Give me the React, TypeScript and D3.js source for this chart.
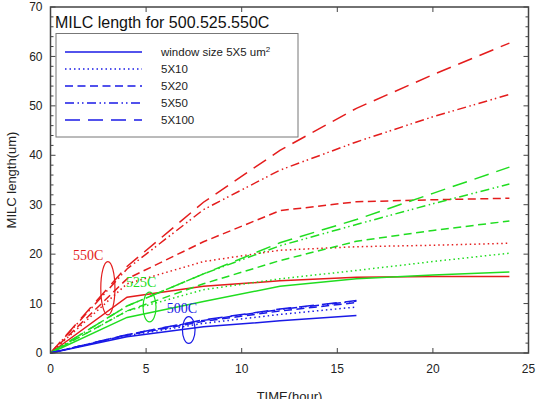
import React, { useEffect, useRef } from 'react'
import * as d3 from 'd3'

// sampling times (hours)
const hours = [0, 4, 8, 12, 16, 20, 24]
const hours500 = [0, 4, 8, 12, 16]

// MILC length (um) per window size: 5X5, 5X10, 5X20, 5X50, 5X100
const milc550 = [
  [0, 11.3, 13.5, 14.6, 15.3, 15.5, 15.5],
  [0, 14.0, 18.5, 20.8, 21.5, 21.8, 22.2],
  [0, 15.0, 22.5, 28.8, 30.6, 31.0, 31.3],
  [0, 17.0, 29.0, 37.0, 42.7, 47.8, 52.3],
  [0, 17.5, 30.5, 41.0, 49.5, 56.3, 62.7],
]
const milc525 = [
  [0, 7.2, 10.4, 13.5, 15.0, 15.8, 16.4],
  [0, 8.5, 12.8, 15.0, 16.7, 18.5, 20.2],
  [0, 8.5, 14.0, 18.7, 22.6, 24.8, 26.7],
  [0, 9.5, 16.0, 21.7, 26.0, 30.2, 34.2],
  [0, 9.5, 16.0, 22.3, 27.0, 32.3, 37.6],
]
const milc500 = [
  [0, 3.3, 5.3, 6.5, 7.6],
  [0, 3.5, 6.0, 7.8, 9.3],
  [0, 3.6, 6.4, 8.5, 10.2],
  [0, 3.7, 6.6, 8.8, 10.5],
  [0, 3.7, 6.7, 8.9, 10.6],
]

const windowLabels = ['window size 5X5 um', '5X10', '5X20', '5X50', '5X100']
const dashes = ['none', '1.5 3', '8 4.5', '9 3.5 1.5 3 1.5 3.5', '15 8']

const xTicks = [0, 5, 10, 15, 20, 25]
const yTicks = [0, 10, 20, 30, 40, 50, 60, 70]

// temperature tags: label anchor and ellipse (centre, half-sizes in data units)
const tempTags = [
  { label: '550C', color: '#e41c1c', tx: 1.18, ty: 18.8, cx: 3.0, cy: 13.1, rt: 0.37, rv: 5.4 },
  { label: '525C', color: '#20dd20', tx: 3.95, ty: 13.4, cx: 5.18, cy: 9.3, rt: 0.34, rv: 3.0 },
  { label: '500C', color: '#1a1ae6', tx: 6.08, ty: 8.1, cx: 7.23, cy: 4.65, rt: 0.33, rv: 2.7 },
]

export default function App() {
  const svgRef = useRef<SVGSVGElement>(null)

  useEffect(() => {
    if (!svgRef.current) return
    const svg = d3.select(svgRef.current)
    svg.selectAll('*').remove()

    const left = 50.5
    const right = 528.5
    const top = 7
    const bottom = 353
    const axisColor = '#444'
    const font = 'Liberation Sans, Arial, sans-serif'

    const x = d3.scaleLinear().domain([0, 25]).range([left, right])
    const y = d3.scaleLinear().domain([0, 70]).range([bottom, top])

    svg.append('rect').attr('width', 553).attr('height', 399).attr('fill', 'white')

    // series
    const plot = svg.append('g')
    const groups = [
      { t: hours, v: milc550, color: tempTags[0].color },
      { t: hours, v: milc525, color: tempTags[1].color },
      { t: hours500, v: milc500, color: tempTags[2].color },
    ]
    groups.forEach((grp) => {
      grp.v.forEach((vals, i) => {
        const line = d3
          .line<number>()
          .x((_, j) => x(grp.t[j]))
          .y((d) => y(d))
        plot
          .append('path')
          .datum(vals)
          .attr('fill', 'none')
          .attr('stroke', grp.color)
          .attr('stroke-width', 1.5)
          .attr('stroke-dasharray', dashes[i])
          .attr('d', line)
      })
    })

    // temperature annotations
    tempTags.forEach((tag) => {
      svg
        .append('text')
        .attr('x', x(tag.tx))
        .attr('y', y(tag.ty))
        .attr('font-family', 'Liberation Serif, Times New Roman, serif')
        .attr('font-size', 14)
        .attr('fill', tag.color)
        .text(tag.label)
      svg
        .append('ellipse')
        .attr('cx', x(tag.cx))
        .attr('cy', y(tag.cy))
        .attr('rx', x(tag.rt) - x(0))
        .attr('ry', y(0) - y(tag.rv))
        .attr('fill', 'none')
        .attr('stroke', tag.color)
        .attr('stroke-width', 1.2)
    })

    // frame and inward ticks on all sides
    const axes = svg.append('g')
    axes
      .append('rect')
      .attr('x', left)
      .attr('y', top)
      .attr('width', right - left)
      .attr('height', bottom - top)
      .attr('fill', 'none')
      .attr('stroke', axisColor)
      .attr('stroke-width', 1.5)

    xTicks.forEach((t) => {
      axes.append('line').attr('x1', x(t)).attr('x2', x(t)).attr('y1', bottom).attr('y2', bottom - 5)
      axes.append('line').attr('x1', x(t)).attr('x2', x(t)).attr('y1', top).attr('y2', top + 5)
      axes
        .append('text')
        .attr('x', x(t))
        .attr('y', bottom + 20)
        .attr('text-anchor', 'middle')
        .attr('font-size', 12)
        .attr('fill', '#222')
        .attr('font-family', font)
        .text(t)
    })

    d3.range(0, 71, 2).forEach((v) => {
      const major = v % 10 === 0
      const len = major ? 5 : 3
      axes.append('line').attr('x1', left).attr('x2', left + len).attr('y1', y(v)).attr('y2', y(v))
      axes.append('line').attr('x1', right).attr('x2', right - len).attr('y1', y(v)).attr('y2', y(v))
    })
    axes.selectAll('line').attr('stroke', axisColor).attr('stroke-width', 1)

    yTicks.forEach((v) => {
      axes
        .append('text')
        .attr('x', left - 8)
        .attr('y', y(v))
        .attr('dy', '0.35em')
        .attr('text-anchor', 'end')
        .attr('font-size', 12)
        .attr('fill', '#222')
        .attr('font-family', font)
        .text(v)
    })

    // axis titles
    svg
      .append('text')
      .attr('x', (left + right) / 2)
      .attr('y', 401)
      .attr('text-anchor', 'middle')
      .attr('font-size', 13)
      .attr('font-family', font)
      .attr('fill', '#222')
      .text('TIME(hour)')
    svg
      .append('text')
      .attr('transform', `translate(16,${(top + bottom) / 2}) rotate(-90)`)
      .attr('text-anchor', 'middle')
      .attr('font-size', 13)
      .attr('font-family', font)
      .attr('fill', '#222')
      .text('MILC length(um)')

    // title
    svg
      .append('text')
      .attr('x', 55)
      .attr('y', 28)
      .attr('font-size', 16)
      .attr('font-family', font)
      .attr('fill', '#111')
      .text('MILC length for 500.525.550C')

    // legend
    const legend = svg.append('g')
    legend
      .append('rect')
      .attr('x', 56)
      .attr('y', 33.5)
      .attr('width', 242)
      .attr('height', 103.5)
      .attr('fill', 'white')
      .attr('stroke', '#777')
      .attr('stroke-width', 1)
    windowLabels.forEach((label, i) => {
      const ly = 52 + i * 17
      legend
        .append('line')
        .attr('x1', 65)
        .attr('x2', 142)
        .attr('y1', ly)
        .attr('y2', ly)
        .attr('stroke', '#1a1ae6')
        .attr('stroke-width', 1.5)
        .attr('stroke-dasharray', dashes[i])
      const txt = legend
        .append('text')
        .attr('x', 161)
        .attr('y', ly)
        .attr('dy', '0.35em')
        .attr('font-size', 11.5)
        .attr('font-family', font)
        .attr('fill', '#222')
        .text(label)
      if (i === 0) {
        txt.append('tspan').attr('dy', '-0.5em').attr('font-size', 8).text('2')
      }
    })
  }, [])

  return (
    <div style={{ position: 'fixed', left: 0, top: 0 }}>
      <svg ref={svgRef} width={553} height={399} style={{ display: 'block' }} />
    </div>
  )
}
